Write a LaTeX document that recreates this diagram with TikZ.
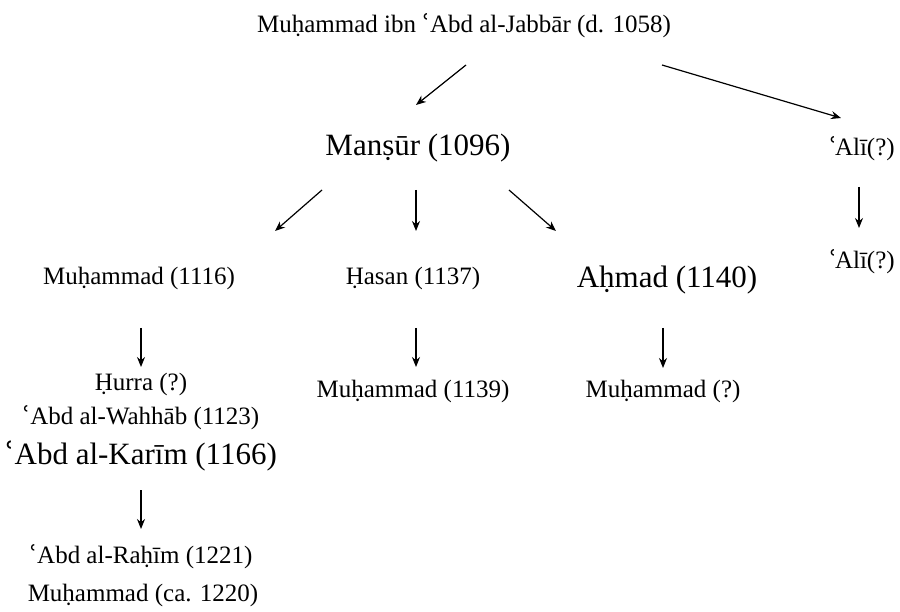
\documentclass[tikz,border=0pt]{standalone}
\usepackage{fontspec}
\setmainfont{Liberation Serif}
\newfontfamily\ringfont{DejaVu Serif}
\newcommand\ayn{{\ringfont ʿ}}
\usetikzlibrary{arrows.meta}

\begin{document}
\begin{tikzpicture}[
    x=1pt, y=-1pt,
    person/.style={inner sep=0pt, font=\fontsize{25}{30}\selectfont},
    bigperson/.style={inner sep=0pt, font=\fontsize{31}{36}\selectfont},
    arr/.style={-{Stealth[length=10pt,width=8pt]}, line width=1.2pt}
]
    \useasboundingbox (0,0) rectangle (900,612);

    % --- generation 1 ---
    \node[person] (top) at (464,26) {Muḥammad ibn \ayn Abd al-Jabbār (d. 1058)};

    % --- generation 2 ---
    \node[bigperson] (mansur) at (418,148) {Manṣūr (1096)};
    \node[person] (ali1) at (862,149) {\ayn\kern-2pt Alī(?)};
    \node[person] (ali2) at (862,262) {\ayn\kern-2pt Alī(?)};

    \draw[arr] ([shift={(2,39)}]top.center) -- ([shift={(-2,-43)}]mansur.center);
    \draw[arr] ([shift={(198,39)}]top.center) -- ([shift={(-21,-31)}]ali1.center);
    \draw[arr] ([shift={(-3,38)}]ali1.center) -- ([shift={(-3,-34)}]ali2.center);

    % --- generation 3 ---
    \node[person] (muh1116) at (139,278) {Muḥammad (1116)};
    \node[person] (hasan) at (413,278) {Ḥasan (1137)};
    \node[bigperson] (ahmad) at (667,280) {Aḥmad (1140)};

    \draw[arr] ([shift={(-96,42)}]mansur.center) -- ([shift={(136,-47)}]muh1116.center);
    \draw[arr] ([shift={(-2,42)}]mansur.center) -- ([shift={(3,-47)}]hasan.center);
    \draw[arr] ([shift={(91,42)}]mansur.center) -- ([shift={(-111,-49)}]ahmad.center);

    % --- generation 4 ---
    \node[person] (hurra) at (141,384) {Ḥurra (?)};
    \node[person] (wahhab) at (141,418) {\ayn Abd al-Wahhāb (1123)};
    \node[bigperson] (karim) at (141,456) {\ayn Abd al-Karīm (1166)};
    \node[person] (muh1139) at (413,391) {Muḥammad (1139)};
    \node[person] (muhq) at (663,391) {Muḥammad (?)};

    \draw[arr] ([shift={(2,50)}]muh1116.center) -- ([shift={(0,-17)}]hurra.center);
    \draw[arr] ([shift={(3,50)}]hasan.center) -- ([shift={(3,-24)}]muh1139.center);
    \draw[arr] ([shift={(-4,48)}]ahmad.center) -- ([shift={(0,-23)}]muhq.center);

    % --- generation 5 ---
    \node[person] (rahim) at (141,557) {\ayn Abd al-Raḥīm (1221)};
    \node[person] (muh1220) at (143,595) {Muḥammad (ca. 1220)};

    \draw[arr] ([shift={(0,34)}]karim.center) -- ([shift={(0,-28)}]rahim.center);

\end{tikzpicture}
\end{document}
